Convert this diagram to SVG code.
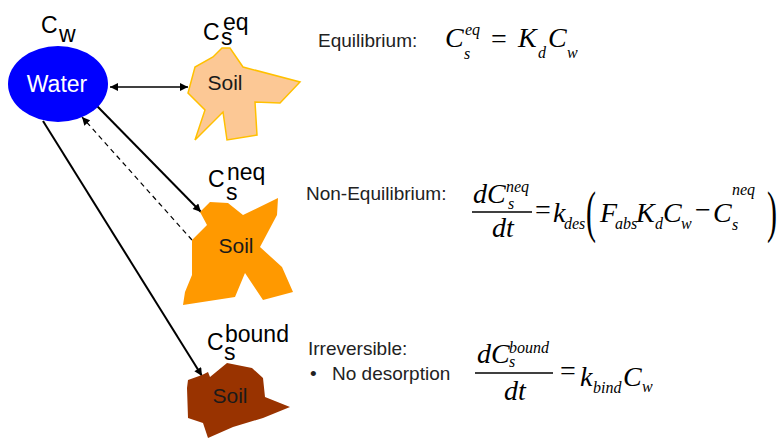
<svg xmlns="http://www.w3.org/2000/svg" width="782" height="438" viewBox="0 0 782 438">
<defs>
<style>
.lbl{font-family:"Liberation Sans",Arial,sans-serif;font-size:23px;fill:#000}
.soil{font-family:"Liberation Sans",Arial,sans-serif;font-size:21px;fill:#1a1a1a;text-anchor:middle}
.txt{font-family:"Liberation Sans",Arial,sans-serif;font-size:19px;fill:#222}
.m{font-family:"Liberation Serif","Times New Roman",serif;font-size:28px;font-style:italic;fill:#000}
.s{font-size:16px}
.u{font-style:normal}
.ln{stroke:#000;fill:none}
</style>
<marker id="ah" viewBox="0 0 10 10" refX="10" refY="5" markerWidth="10" markerHeight="8" markerUnits="userSpaceOnUse" orient="auto-start-reverse"><path d="M0,0 L10,5 L0,10 z" fill="#000"/></marker>
</defs>
<rect width="782" height="438" fill="#fff"/>

<g id="connectors">
<line class="ln" x1="110" y1="87" x2="188" y2="87" stroke-width="1.3" marker-start="url(#ah)" marker-end="url(#ah)"/>
<line class="ln" x1="97" y1="106" x2="201" y2="212" stroke-width="2" marker-end="url(#ah)"/>
<line class="ln" x1="192" y1="240" x2="82" y2="117" stroke-width="1.2" stroke-dasharray="5,4" stroke="#333" marker-end="url(#ah)"/>
<line class="ln" x1="43" y1="121" x2="202" y2="376" stroke-width="2" marker-end="url(#ah)"/>
</g>

<g id="water">
<ellipse cx="58" cy="84" rx="50" ry="38" fill="#0000ff"/>
<text x="57" y="92" style="font-family:'Liberation Sans',Arial,sans-serif;font-size:23px;fill:#fff;text-anchor:middle">Water</text>
<text class="lbl" x="41" y="33">C<tspan x="59" y="42">w</tspan></text>
</g>

<g id="soil-eq">
<polygon points="222,48 230,48 243,67 300,82 280,103 255,102 257,135 227,140 223,112 195,140 205,110 188,93 195,67 213,57" fill="#fcc895" stroke="#ffc000" stroke-width="1.5" stroke-linejoin="miter"/>
<text class="soil" x="225" y="90">Soil</text>
<text class="lbl" x="203" y="40">C<tspan x="221" y="45">s</tspan><tspan x="223" y="30">eq</tspan></text>
</g>

<g id="soil-neq">
<polygon points="200,212 210,202 228,203 243,215 278,198 277,215 260,247 282,267 293,292 263,300 245,273 235,297 183,305 185,292 192,275 192,240 207,225" fill="#ff9900"/>
<text class="soil" x="236" y="253">Soil</text>
<text class="lbl" x="208" y="187">C<tspan x="226" y="200">s</tspan><tspan x="227" y="180">neq</tspan></text>
</g>

<g id="soil-bound">
<polygon points="188,380 202,375 208,372 210,377 227,363 252,368 263,378 265,397 290,407 263,418 233,427 208,438 203,423 188,418 187,388" fill="#993300"/>
<text class="soil" x="230" y="403">Soil</text>
<text class="lbl" x="207" y="350">C<tspan x="224" y="360">s</tspan><tspan x="225" y="342">bound</tspan></text>
</g>

<g id="eq-text">
<text class="txt" x="318" y="47">Equilibrium:</text>
<text class="m" x="445" y="47">C</text>
<text class="m s" x="464" y="59">s</text>
<text class="m s" x="465" y="35">eq</text>
<text class="m u" x="491" y="48">=</text>
<text class="m" x="518" y="47">K</text>
<text class="m s" x="538" y="58">d</text>
<text class="m" x="548" y="47">C</text>
<text class="m s" x="567" y="58">w</text>
</g>

<g id="neq-text">
<text class="txt" x="306" y="200">Non-Equilibrium:</text>
<text class="m" x="473" y="203">d</text>
<text class="m" x="487" y="203">C</text>
<text class="m s" x="506" y="192">neq</text>
<text class="m s" x="508" y="209">s</text>
<line class="ln" x1="472" y1="212" x2="532" y2="212" stroke-width="1.3"/>
<text class="m" x="503" y="237" text-anchor="middle">dt</text>
<text class="m u" x="535" y="219">=</text>
<text class="m" x="553" y="222">k</text>
<text class="m s" x="564" y="229">des</text>
<text class="m u" transform="translate(586,231) scale(1,1.9)" style="font-size:30px">(</text>
<text class="m" x="600" y="222">F</text>
<text class="m s" x="615" y="229">abs</text>
<text class="m" x="636" y="222">K</text>
<text class="m s" x="655" y="229">d</text>
<text class="m" x="663" y="222">C</text>
<text class="m s" x="681" y="229">w</text>
<text class="m u" x="695" y="219">−</text>
<text class="m" x="713" y="222">C</text>
<text class="m s" x="732" y="195">neq</text>
<text class="m s" x="732" y="230">s</text>
<text class="m u" transform="translate(767,231) scale(1,1.9)" style="font-size:30px">)</text>
</g>

<g id="bound-text">
<text class="txt" x="308" y="355">Irreversible:</text>
<text class="txt" x="310" y="380">•</text>
<text class="txt" x="332" y="380">No desorption</text>
<text class="m" x="477" y="363">d</text>
<text class="m" x="491" y="363">C</text>
<text class="m s" x="509" y="353">bound</text>
<text class="m s" x="509" y="367">s</text>
<line class="ln" x1="475" y1="373" x2="553" y2="373" stroke-width="1.3"/>
<text class="m" x="515" y="400" text-anchor="middle">dt</text>
<text class="m u" x="560" y="380">=</text>
<text class="m" x="580" y="386">k</text>
<text class="m s" x="593" y="393">bind</text>
<text class="m" x="623" y="386">C</text>
<text class="m s" x="642" y="392">w</text>
</g>
</svg>
